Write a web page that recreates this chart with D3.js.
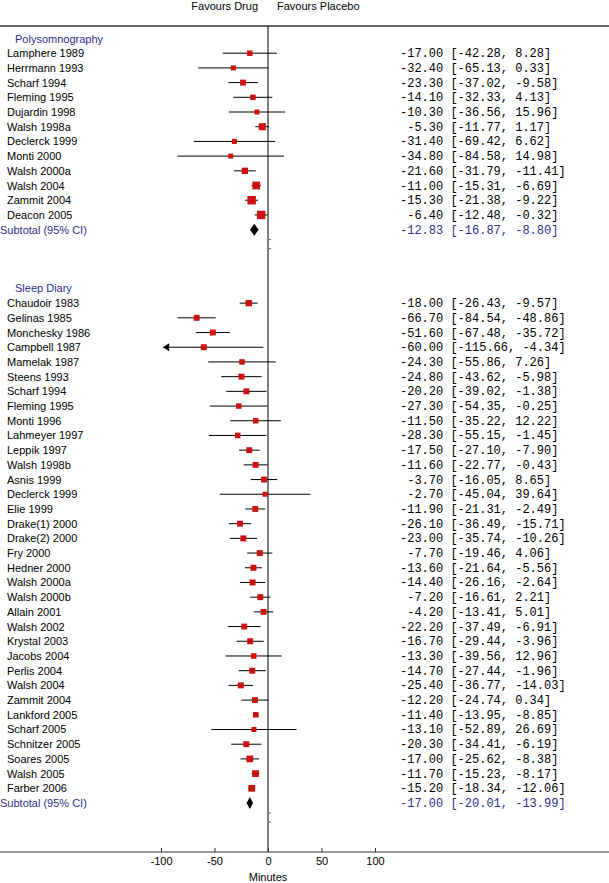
<!DOCTYPE html>
<html>
<head>
<meta charset="utf-8">
<script src="https://cdn.jsdelivr.net/npm/d3@7"></script>
<style>
  body { margin: 0; background: #fff; }
  svg { display: block; }
  .mono { font-family: "Liberation Mono", "DejaVu Sans Mono", monospace; font-size: 12px; white-space: pre; }
</style>
</head>
<body>
<figure id="cc" style="margin:0"></figure>
<script>
// Polysomnography group
const psgStudies = ['Lamphere 1989', 'Herrmann 1993', 'Scharf 1994', 'Fleming 1995', 'Dujardin 1998', 'Walsh 1998a',
  'Declerck 1999', 'Monti 2000', 'Walsh 2000a', 'Walsh 2004', 'Zammit 2004', 'Deacon 2005'];
const psgMean = [-17.00, -32.40, -23.30, -14.10, -10.30, -5.30, -31.40, -34.80, -21.60, -11.00, -15.30, -6.40];
const psgLo = [-42.28, -65.13, -37.02, -32.33, -36.56, -11.77, -69.42, -84.58, -31.79, -15.31, -21.38, -12.48];
const psgHi = [8.28, 0.33, -9.58, 4.13, 15.96, 1.17, 6.62, 14.98, -11.41, -6.69, -9.22, -0.32];
const psgWeight = [6, 5, 7, 6, 5, 10, 5, 5, 8, 12, 14, 14];
const psgTotal = [-12.83, -16.87, -8.80];

// Sleep diary group
const diaryStudies = ['Chaudoir 1983', 'Gelinas 1985', 'Monchesky 1986', 'Campbell 1987', 'Mamelak 1987', 'Steens 1993',
  'Scharf 1994', 'Fleming 1995', 'Monti 1996', 'Lahmeyer 1997', 'Leppik 1997', 'Walsh 1998b', 'Asnis 1999',
  'Declerck 1999', 'Elie 1999', 'Drake(1) 2000', 'Drake(2) 2000', 'Fry 2000', 'Hedner 2000', 'Walsh 2000a',
  'Walsh 2000b', 'Allain 2001', 'Walsh 2002', 'Krystal 2003', 'Jacobs 2004', 'Perlis 2004', 'Walsh 2004',
  'Zammit 2004', 'Lankford 2005', 'Scharf 2005', 'Schnitzer 2005', 'Soares 2005', 'Walsh 2005', 'Farber 2006'];
const diaryMean = [-18.00, -66.70, -51.60, -60.00, -24.30, -24.80, -20.20, -27.30, -11.50, -28.30, -17.50, -11.60,
  -3.70, -2.70, -11.90, -26.10, -23.00, -7.70, -13.60, -14.40, -7.20, -4.20, -22.20, -16.70, -13.30, -14.70,
  -25.40, -12.20, -11.40, -13.10, -20.30, -17.00, -11.70, -15.20];
const diaryLo = [-26.43, -84.54, -67.48, -115.66, -55.86, -43.62, -39.02, -54.35, -35.22, -55.15, -27.10, -22.77,
  -16.05, -45.04, -21.31, -36.49, -35.74, -19.46, -21.64, -26.16, -16.61, -13.41, -37.49, -29.44, -39.56, -27.44,
  -36.77, -24.74, -13.95, -52.89, -34.41, -25.62, -15.23, -18.34];
const diaryHi = [-9.57, -48.86, -35.72, -4.34, 7.26, -5.98, -1.38, -0.25, 12.22, -1.45, -7.90, -0.43,
  8.65, 39.64, -2.49, -15.71, -10.26, 4.06, -5.56, -2.64, 2.21, 5.01, -6.91, -3.96, 12.96, -1.96,
  -14.03, 0.34, -8.85, 26.69, -6.19, -8.38, -8.17, -12.06];
const diaryWeight = [8, 7, 7, 7, 6, 7, 7, 6, 6, 6, 7, 7, 7, 5, 7, 7, 7, 7, 7, 7, 7, 7, 7, 7, 6, 7, 7, 7, 6, 5,
  7, 9, 9, 9];
const diaryTotal = [-17.00, -20.01, -13.99];

const xTicks = [-100, -50, 0, 50, 100];

const width = 609;
const height = 883;
const navy = '#2e2e8a';
const red = '#cc1111';

// build the row list
const rows = [];
rows.push({ kind: 'head', label: 'Polysomnography' });
psgStudies.forEach((s, i) => rows.push({ kind: 'study', label: s, m: psgMean[i], lo: psgLo[i], hi: psgHi[i], w: psgWeight[i] }));
rows.push({ kind: 'total', label: 'Subtotal (95% CI)', m: psgTotal[0], lo: psgTotal[1], hi: psgTotal[2] });
rows.push({ kind: 'blank' }, { kind: 'blank' }, { kind: 'blank' });
rows.push({ kind: 'head', label: 'Sleep Diary' });
diaryStudies.forEach((s, i) => rows.push({ kind: 'study', label: s, m: diaryMean[i], lo: diaryLo[i], hi: diaryHi[i], w: diaryWeight[i] }));
rows.push({ kind: 'total', label: 'Subtotal (95% CI)', m: diaryTotal[0], lo: diaryTotal[1], hi: diaryTotal[2] });
rows.forEach((r, i) => r.i = i);

const x = d3.scaleLinear().domain([-100, 100]).range([161, 375]);
const y = d3.scaleLinear().domain([0, rows.length - 1]).range([38.5, 803]);
const size = d3.scaleSqrt().domain([0, 16]).range([0, 9]);
const axisY = 852;

const svg = d3.select('figure#cc')
  .append('svg')
  .attr('width', width)
  .attr('height', height)
  .attr('font-family', 'Arial, "Liberation Sans", sans-serif')
  .attr('font-size', 11);

// header
svg.append('text').attr('x', 258).attr('y', 10).attr('text-anchor', 'end').text('Favours Drug');
svg.append('text').attr('x', 277).attr('y', 10).attr('text-anchor', 'start').text('Favours Placebo');
svg.append('line').attr('x1', 0).attr('x2', width).attr('y1', 26).attr('y2', 26)
  .attr('stroke', '#333').attr('stroke-width', 1.5);

// zero line
svg.append('line').attr('x1', x(0)).attr('x2', x(0)).attr('y1', 26).attr('y2', axisY)
  .attr('stroke', '#000');

// labels on the left
svg.append('g').selectAll('text')
  .data(rows.filter(r => r.kind !== 'blank'))
  .join('text')
  .attr('x', r => r.kind === 'head' ? 15 : (r.kind === 'total' ? 0 : 7))
  .attr('y', r => y(r.i) + 4)
  .attr('fill', r => r.kind === 'study' ? '#000' : navy)
  .text(r => r.label);

// values on the right (plain hyphen for minus, like the original)
const fmt = v => v.toFixed(2);
svg.append('g').selectAll('text')
  .data(rows.filter(r => r.kind === 'study' || r.kind === 'total'))
  .join('text')
  .attr('class', 'mono')
  .attr('x', 400)
  .attr('y', r => y(r.i) + 4)
  .attr('fill', r => r.kind === 'total' ? navy : '#000')
  .text(r => fmt(r.m).padStart(6, ' ') + ' [' + fmt(r.lo) + ', ' + fmt(r.hi) + ']');

// confidence intervals
const studies = rows.filter(r => r.kind === 'study');
const ci = svg.append('g');
ci.selectAll('line')
  .data(studies)
  .join('line')
  .attr('x1', r => x(Math.max(r.lo, -98)))
  .attr('x2', r => x(Math.min(r.hi, 98)))
  .attr('y1', r => y(r.i))
  .attr('y2', r => y(r.i))
  .attr('stroke', '#000');

// arrows for clipped intervals
ci.selectAll('path')
  .data(studies.filter(r => r.lo < -98))
  .join('path')
  .attr('d', r => {
    const tx = x(-98), ty = y(r.i);
    return `M${tx},${ty} L${tx + 6},${ty - 4} L${tx + 6},${ty + 4} Z`;
  })
  .attr('fill', '#000');

// squares
svg.append('g').selectAll('rect')
  .data(studies)
  .join('rect')
  .attr('x', r => x(r.m) - size(r.w) / 2)
  .attr('y', r => y(r.i) - size(r.w) / 2)
  .attr('width', r => size(r.w))
  .attr('height', r => size(r.w))
  .attr('fill', red);

// diamonds
const totals = rows.filter(r => r.kind === 'total');
svg.append('g').selectAll('path')
  .data(totals)
  .join('path')
  .attr('d', r => {
    const cy = y(r.i);
    return `M${x(r.lo)},${cy} L${x(r.m)},${cy - 6} L${x(r.hi)},${cy} L${x(r.m)},${cy + 6} Z`;
  })
  .attr('fill', '#000');

// little dotted marks under each subtotal
svg.append('g').selectAll('line')
  .data(totals.flatMap(r => [y(r.i) + 10, y(r.i) + 19]))
  .join('line')
  .attr('x1', x(0) + 1).attr('x2', x(0) + 3)
  .attr('y1', d => d).attr('y2', d => d)
  .attr('stroke', '#555');

// x axis
svg.append('line').attr('x1', 0).attr('x2', width).attr('y1', axisY).attr('y2', axisY)
  .attr('stroke', '#333').attr('stroke-width', 1.2);
const axis = svg.append('g')
  .attr('transform', `translate(0,${axisY})`)
  .call(d3.axisBottom(x).tickValues(xTicks).tickFormat(d => String(d))
    .tickSizeInner(-4).tickSizeOuter(0).tickPadding(5));
axis.select('.domain').remove();
axis.selectAll('text').attr('font-size', 11).attr('font-family', 'Arial, "Liberation Sans", sans-serif').attr('fill', '#000');
axis.selectAll('line').attr('stroke', '#333');

svg.append('text').attr('x', x(0)).attr('y', 881).attr('text-anchor', 'middle').text('Minutes');
</script>
</body>
</html>
